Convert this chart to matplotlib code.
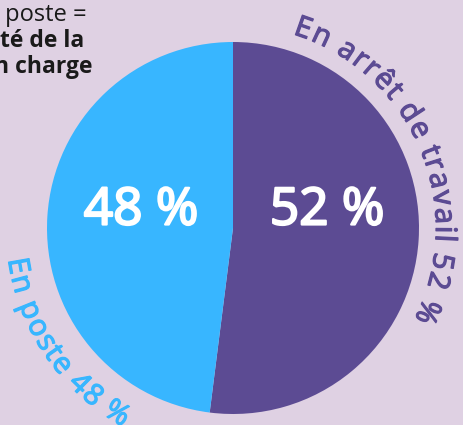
import numpy as np
import matplotlib
matplotlib.use("Agg")
import matplotlib.pyplot as plt
import matplotlib.patheffects as pe
from matplotlib.font_manager import FontProperties

# share of staff: on sick leave vs. still at work
labels = ["En arrêt de travail", "En poste"]
values = [52, 48]
colors = ["#5C4B93", "#38B6FF"]
note_lines = [" poste =", "té de la", "n charge"]

BG = "#DFD1E3"
W, H = 463, 425
FONT = "Open Sans"

fig = plt.figure(figsize=(W / 100, H / 100), dpi=100, facecolor=BG)
ax = fig.add_axes([0, 0, 1, 1])
ax.set_facecolor(BG)

cx, cy, r = 233, H - 228, 186
ax.pie(values, colors=colors, startangle=90, counterclock=False,
       center=(cx, cy), radius=r, wedgeprops=dict(linewidth=0))
ax.set_xlim(0, W)
ax.set_ylim(0, H)
ax.set_aspect("auto")
ax.axis("off")


def medium(color, lw):
    # regular weight thickened a little with an outline in the same colour
    return [pe.withStroke(linewidth=lw, foreground=color)]


# big percentages inside the slices
for v, dx in zip(values, [94, -92]):
    ax.text(cx + dx, cy + 17, f"{v} %", color="white", fontsize=37,
            fontfamily=FONT, fontweight="normal", ha="center", va="center",
            path_effects=medium("white", 1.6))

renderer = fig.canvas.get_renderer()


def arc_text(text, a0, a1, radius, color, inward, size=21):
    """Lay out text character by character along a circle around the pie."""
    fp = FontProperties(family=FONT, weight="normal", size=size)
    widths = np.array([renderer.get_text_width_height_descent(ch, fp, ismath=False)[0]
                       for ch in text])
    centers = np.cumsum(widths) - widths / 2
    frac = (centers - centers[0]) / (centers[-1] - centers[0])
    for ch, a in zip(text, a0 + (a1 - a0) * frac):
        t = np.radians(a)
        rot = a + 90 if inward else a - 90
        ax.text(cx + radius * np.cos(t), cy + radius * np.sin(t), ch,
                fontproperties=fp, color=color, rotation=rot,
                rotation_mode="anchor", ha="center", va="baseline",
                path_effects=medium(color, 0.9))


arc_text(f"{labels[0]} {values[0]} %", 70.6, -23.3, 203, colors[0], inward=False)
arc_text(f"{labels[1]} {values[1]} %", 190.0, 238.0, 227, colors[1], inward=True)

# note in the top-left corner (runs off the edge)
for i, (line, x0) in enumerate(zip(note_lines, [-1, 0, -6])):
    ax.text(x0, H - 15 - 26 * i, line, color="#1A1A1A",
            fontsize=17 if i == 0 else 16.5,
            fontfamily=FONT, fontweight="normal" if i == 0 else "bold",
            ha="left", va="center")

fig.savefig("out.png", dpi=100, facecolor=BG)
